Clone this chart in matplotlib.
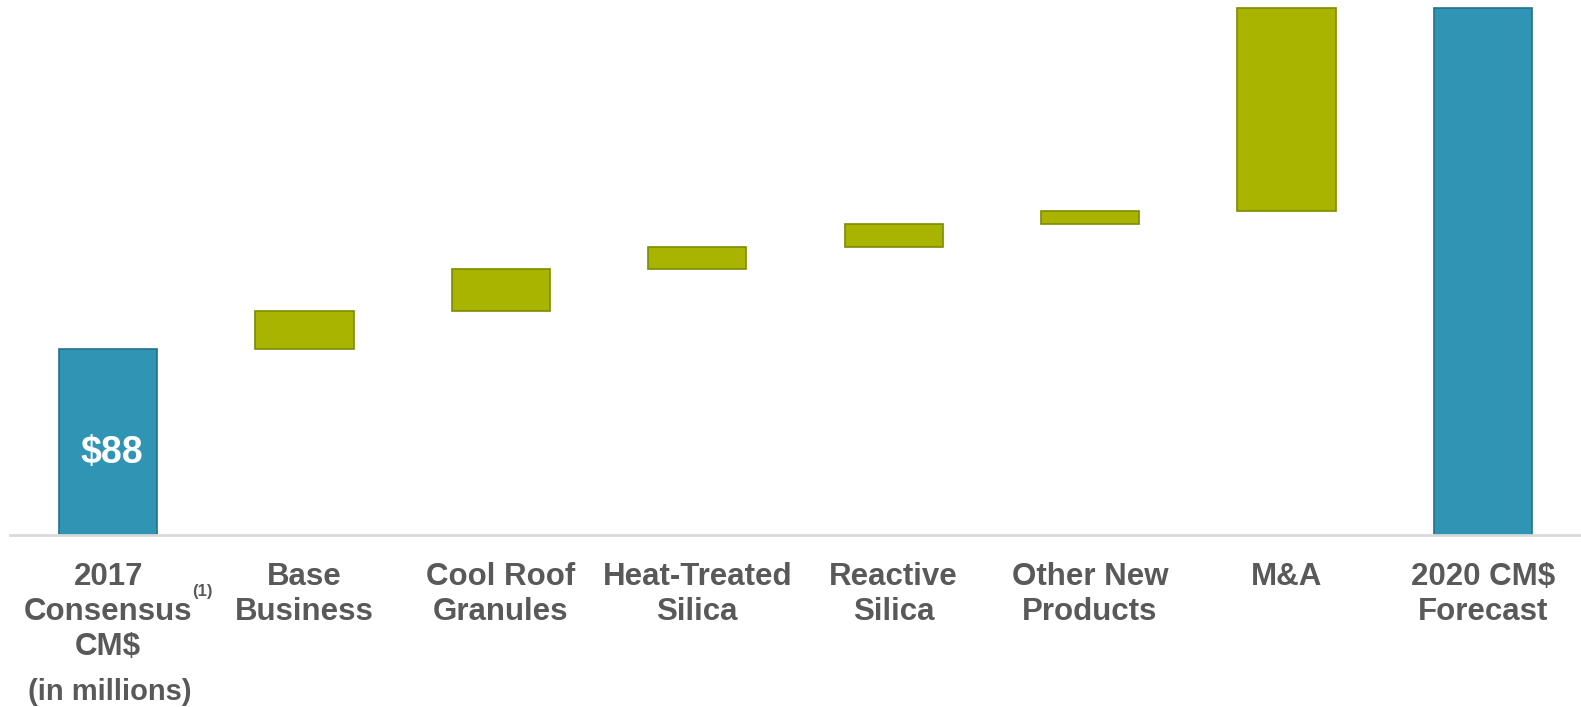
import matplotlib.pyplot as plt
import numpy as np

# waterfall data, $ millions
categories = ["2017\nConsensus\nCM$", "Base\nBusiness", "Cool Roof\nGranules",
              "Heat-Treated\nSilica", "Reactive\nSilica", "Other New\nProducts",
              "M&A", "2020 CM$\nForecast"]
start_value = 88
steps = [18, 20, 10, 11, 6, 96]
start_label = "$88"

teal = "#3094b5"
teal_edge = "#24718b"
green = "#a9b400"
green_edge = "#7d8a00"
text_grey = "#595959"

plt.rcParams['font.family'] = ['Liberation Sans', 'DejaVu Sans']

fig = plt.figure(figsize=(15.81, 7.07), dpi=100)
ax = fig.add_axes([0.0063, 0.2433, 0.9937, 0.7567])

x = np.arange(len(categories))
total = start_value + sum(steps)
bottoms = start_value + np.concatenate([[0], np.cumsum(steps)[:-1]])

# end bars
ax.bar([x[0], x[-1]], [start_value, total], width=0.5, color=teal,
       edgecolor=teal_edge, linewidth=1.2, zorder=2)
# floating steps
ax.bar(x[1:-1], steps, bottom=bottoms, width=0.5, color=green,
       edgecolor=green_edge, linewidth=1.2, zorder=2)

ax.text(x[0] + 0.02, start_value * 0.44, start_label, color="white",
        fontsize=27, fontweight="bold", ha="center", va="center")

ax.set_xlim(-0.5, 7.5)
ax.set_ylim(0, 253)
ax.set_xticks(x)
ax.set_xticklabels(categories, fontsize=22.5, fontweight="bold",
                   color=text_grey, linespacing=1.22, va="top")
ax.tick_params(axis="x", length=0, pad=19.5)
ax.set_yticks([])

for s in ["top", "right", "left"]:
    ax.spines[s].set_visible(False)
ax.spines["bottom"].set_color("#d9d9d9")
ax.spines["bottom"].set_linewidth(2)

# footnote marker and unit note under first label
ax.annotate("(1)", xy=(x[0], 0), xycoords="data", xytext=(68, -41),
            textcoords="offset points", fontsize=12, fontweight="bold",
            color=text_grey, ha="center", va="center")
ax.annotate("(in millions)", xy=(x[0], 0), xycoords="data", xytext=(1, -113),
            textcoords="offset points", fontsize=21, fontweight="bold",
            color=text_grey, ha="center", va="center")

fig.savefig("out.png", dpi=100)
